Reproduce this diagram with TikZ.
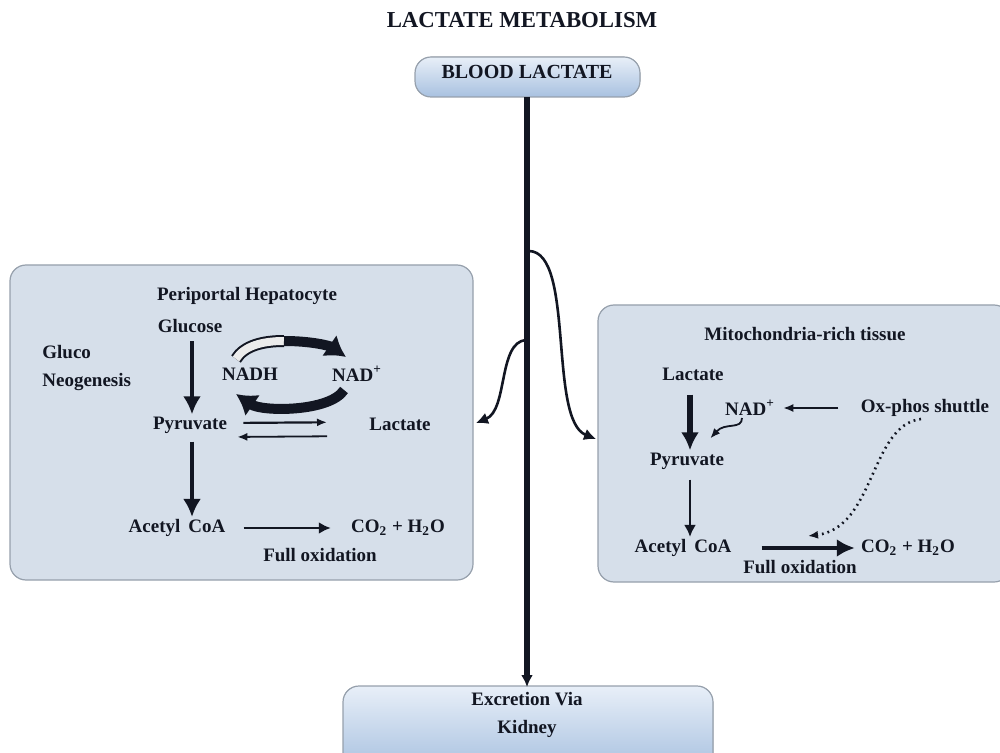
\documentclass[tikz,border=0pt]{standalone}
\usepackage{fontspec}
\setmainfont{Liberation Serif}
\usepackage{tikz}
\usetikzlibrary{arrows.meta,positioning}
\definecolor{panefill}{RGB}{214,223,234}
\definecolor{paneline}{RGB}{150,160,172}
\definecolor{hubtop}{RGB}{232,239,248}
\definecolor{hubbot}{RGB}{168,193,224}
\definecolor{ink}{RGB}{18,22,34}

\begin{document}
\begin{tikzpicture}[
  x=0.5pt, y=-0.5pt, >=Latex,
  lbl/.style={font=\fontsize{9.5}{11}\selectfont\bfseries, text=ink, inner sep=1pt},
  pane/.style={draw=paneline, fill=panefill, rounded corners=8pt, line width=0.6pt},
  hub/.style={draw=paneline, top color=hubtop, bottom color=hubbot,
              rounded corners=8pt, line width=0.6pt},
  thk/.style={->, line width=2pt, draw=ink, >={Latex[length=9pt,width=9pt]}},
  med/.style={->, line width=1.4pt, draw=ink, >={Latex[length=6pt,width=6pt]}},
  thn/.style={->, line width=0.9pt, draw=ink, >={Latex[length=5pt,width=4pt]}}]
\useasboundingbox (0,0) rectangle (1000,753);
% title and blood / kidney boxes
\node[lbl, font=\fontsize{11.4}{13}\selectfont\bfseries] (title) at (522,20) {LACTATE METABOLISM};
\filldraw[hub] (415,57) rectangle (640,97);
\node[lbl, font=\fontsize{10}{12}\selectfont\bfseries] (blood) at (527,72) {BLOOD LACTATE};
\coordinate (bloodS) at (527,97);
\filldraw[hub] (343,686) rectangle (713,770);
\node[lbl] (excr) at (527,699) {Excretion Via};
\node[lbl] (kid) at (527,729) {Kidney};
\coordinate (excrN) at (527,687);
% side panes
\filldraw[pane] (10,265) rectangle (473,580);
\filldraw[pane] (598,305) rectangle (1010,582);
% main trunk and branches
\draw[line width=2.6pt, draw=ink, ->, >={Latex[length=6pt,width=6pt]}] (bloodS) -- (excrN);
\coordinate (tapL) at (526,340);
\coordinate (tapR) at (529,251);
\coordinate (inL) at (476,423);
\coordinate (inR) at (596,439);
\draw[med, line width=1.3pt] (tapL) .. controls (498,342) and (508,410) .. (inL);
\draw[med, line width=1.3pt] (tapR) .. controls (575,252) and (548,420) .. (inR);

% periportal hepatocyte
\node[lbl] (hepa) at (247,296) {Periportal Hepatocyte};
\node[lbl] (glucL) at (190,326) {Glucose};
\node[lbl, align=left, anchor=west] (gneo) at (40,368) {Gluco\\[3pt]Neogenesis};
\node[lbl] (pyrL) at (190,425) {Pyruvate};
\node[lbl] (lacL) at (400,424) {Lactate};
\node[lbl] (nadh) at (250,374) {NADH};
\node[lbl] (nadL) at (357,374) {NAD\textsuperscript{+}};
\node[lbl] (acoL) at (177,528) {Acetyl\, CoA};
\node[lbl] (co2L) at (398,528) {CO\textsubscript{2} + H\textsubscript{2}O};
\node[lbl] (fullL) at (320,555) {Full oxidation};
\draw[thk] ([xshift=1pt,yshift=-3pt]glucL.south) -- ([xshift=1pt]pyrL.north);
\draw[thk] ([xshift=1pt,yshift=-3pt]pyrL.south) -- ([xshift=1pt]pyrL.south |- acoL.north);
\draw[thn, line width=1.1pt, shorten <=7pt, shorten >=20pt] ([yshift=1pt]pyrL.east) -- ([yshift=1pt]lacL.west);
\draw[thn, shorten <=20pt, shorten >=4pt] ([yshift=-6pt]lacL.west) -- ([yshift=-6pt]pyrL.east);
\draw[med, shorten <=8pt, shorten >=9pt] (acoL.east) -- (co2L.west);
% NADH / NAD+ cycle
\coordinate (cycTL) at (236,359);
\coordinate (cycTM) at (284,341);
\coordinate (cycTR) at (346,357);
\coordinate (cycBR) at (344,390);
\coordinate (cycBL) at (236,394);
\draw[line width=1pt, draw=ink, double=white!85!gray, double distance=4pt]
  (cycTL) .. controls (244,346) and (262,341) .. (cycTM);
\draw[line width=5pt, draw=ink, ->, >={Latex[length=10pt,width=13pt]}]
  (cycTM) .. controls (312,341) and (330,346) .. (cycTR);
\draw[line width=5pt, draw=ink, ->, >={Latex[length=10pt,width=13pt]}]
  (cycBR) .. controls (330,412) and (262,412) .. (cycBL);

% mitochondria-rich tissue
\node[lbl] (mito) at (805,334) {Mitochondria-rich tissue};
\node[lbl] (lacR) at (693,374) {Lactate};
\node[lbl] (nadR) at (750,408) {NAD\textsuperscript{+}};
\node[lbl] (oxph) at (925,408) {Ox-phos shuttle};
\node[lbl] (pyrR) at (687,461) {Pyruvate};
\node[lbl] (acoR) at (683,548) {Acetyl\, CoA};
\node[lbl] (co2R) at (908,548) {CO\textsubscript{2} + H\textsubscript{2}O};
\node[lbl] (fullR) at (800,567) {Full oxidation};
\draw[thk, line width=2.6pt] ([xshift=-1.5pt,yshift=-6pt]lacR.south) -- ([xshift=-1.5pt]lacR.south |- pyrR.north);
\draw[med] ([xshift=1.5pt,yshift=-4pt]pyrR.south) -- ([xshift=1.5pt]pyrR.south |- acoR.north);
\draw[thn, shorten <=10pt, shorten >=3pt] (oxph.west) -- (nadR.east);
\draw[thn] ([xshift=-4pt]nadR.south) .. controls (742,430) and (725,422) .. ([xshift=-8pt,yshift=6pt]pyrR.north east);
\draw[thk, line width=2.2pt, shorten <=14pt, shorten >=2pt] (acoR.east) -- (co2R.west);
\draw[thn, dotted, line width=1.3pt] ([xshift=-2pt]oxph.south) .. controls (870,425) and (875,528) .. (808,536);
\end{tikzpicture}
\end{document}
